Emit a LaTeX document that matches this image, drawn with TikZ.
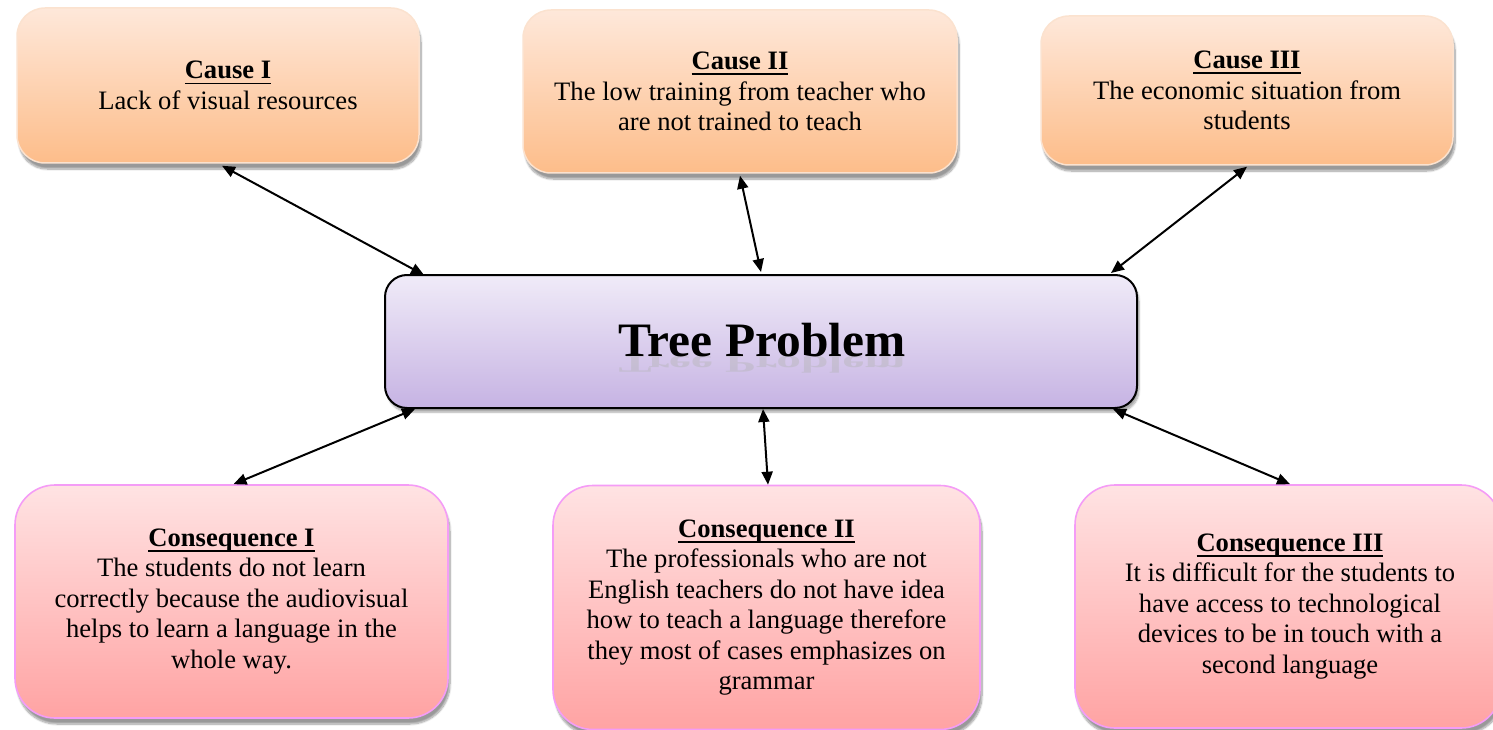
\documentclass[tikz,border=0pt]{standalone}
\usepackage{fontspec}
\setmainfont{Liberation Serif}
\usetikzlibrary{arrows.meta,shadows.blur}
\definecolor{causeTop}{HTML}{FEE8DA}
\definecolor{causeBot}{HTML}{FDBD8A}
\definecolor{causeLine}{HTML}{FBE2CF}
\definecolor{treeTop}{HTML}{F0EBF8}
\definecolor{treeBot}{HTML}{C6B3E3}
\definecolor{consTop}{HTML}{FFE3E3}
\definecolor{consBot}{HTML}{FFA3A3}
\definecolor{consLine}{HTML}{F49CF6}
\newcommand{\ulbf}[1]{\setbox0=\hbox{\textbf{#1}}\leavevmode\rlap{\copy0}\raisebox{-5.5pt}{\rule{\wd0}{1.8pt}}}
\tikzset{
  boxbase/.style={rectangle, align=center, inner sep=0pt, font=\fontsize{26.6}{30.5}\selectfont,
    blur shadow={shadow xshift=2pt, shadow yshift=-6pt, shadow blur steps=10, shadow opacity=40}},
  causebox/.style={boxbase, rounded corners=28pt, draw=causeLine, line width=1.5pt,
    top color=causeTop, bottom color=causeBot},
  treebox/.style={rectangle, rounded corners=22pt, draw=black, line width=2pt,
    top color=treeTop, bottom color=treeBot,
    blur shadow={shadow xshift=2pt, shadow yshift=-4pt, shadow blur steps=6, shadow opacity=35}},
  consbox/.style={boxbase, rounded corners=40pt, draw=consLine, line width=1.6pt,
    top color=consTop, bottom color=consBot},
  link/.style={line width=2pt, {Triangle[length=13pt,width=11pt]}-{Triangle[length=13pt,width=11pt]}}
}
\begin{document}
\begin{tikzpicture}[x=1pt,y=1pt]
\useasboundingbox (0,0) rectangle (1493,-730);
% causes
\node[causebox, minimum width=402pt, minimum height=155pt] (c1) at (218,-85.5)
  {\hspace*{20pt}\ulbf{Cause I}\\\hspace*{20pt}Lack of visual resources};
\node[causebox, minimum width=434pt, minimum height=163pt] (c2) at (740,-91.5)
  {\ulbf{Cause II}\\The low training from teacher who\\are not trained to teach};
\node[causebox, minimum width=412pt, minimum height=149pt] (c3) at (1247,-90.5)
  {\ulbf{Cause III}\\The economic situation from\\students};
% central
\node[treebox, minimum width=752pt, minimum height=133pt] (tp) at (761,-341.5) {};
\node[anchor=base, inner sep=0pt, text=black!30, opacity=0.4] (tpr) at (762,-356)
  {\fontsize{48}{50}\selectfont\bfseries\scalebox{1.03}[-0.5]{Tree Problem}};
\node[anchor=base, inner sep=0pt] (tpt) at (762,-356)
  {\fontsize{48}{50}\selectfont\bfseries\scalebox{1.03}[1]{Tree Problem}};
% consequences
\node[consbox, minimum width=433pt, minimum height=233pt] (k1) at (231.5,-601.5)
  {\ulbf{Consequence I}\\The students do not learn\\correctly because the audiovisual\\helps to learn a language in the\\whole way.};
\node[consbox, minimum width=427pt, minimum height=244pt] (k2) at (766.5,-607.5)
  {\ulbf{Consequence II}\\The professionals who are not\\English teachers do not have idea\\how to teach a language therefore\\they most of cases emphasizes on\\grammar};
\node[consbox, minimum width=426pt, minimum height=243pt] (k3) at (1288,-606.5)
  {\hspace*{4pt}\ulbf{Consequence III}\\\hspace*{4pt}It is difficult for the students to\\\hspace*{4pt}have access to technological\\\hspace*{4pt}devices to be in touch with a\\\hspace*{4pt}second language};
% connectors
\draw[link] ([xshift=4pt,yshift=-2pt]c1.south) -- ([xshift=40pt,yshift=-1pt]tp.north west);
\draw[link] ([yshift=-2pt]c2.south) -- ([yshift=2pt]tp.north);
\draw[link] ([yshift=-1pt]c3.south) -- ([xshift=-27pt,yshift=1pt]tp.north east);
\draw[link] ([xshift=31pt]tp.south west) -- ([xshift=2pt]k1.north);
\draw[link] ([xshift=2pt]tp.south) -- ([xshift=1.5pt]k2.north);
\draw[link] ([xshift=-25pt]tp.south east) -- ([xshift=2pt]k3.north);
\end{tikzpicture}
\end{document}
